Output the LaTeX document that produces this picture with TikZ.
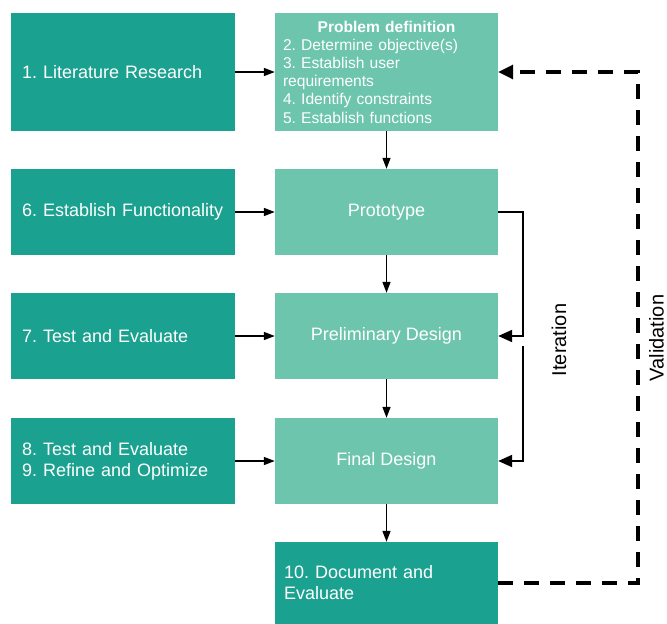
\documentclass[tikz,border=0pt]{standalone}
\usepackage{fontspec}
\setmainfont{Liberation Sans}
\usetikzlibrary{arrows.meta}
\definecolor{darkteal}{HTML}{1BA18F}
\definecolor{lightteal}{HTML}{6CC5AC}
\frenchspacing
\begin{document}
\begin{tikzpicture}[x=1pt,y=-1pt,
  leftbox/.style={draw=none,fill=darkteal,text=white,minimum width=224pt,text width=202pt,inner xsep=11pt,align=left,font=\fontsize{18}{21}\selectfont},
  rightbox/.style={draw=none,fill=lightteal,text=white,minimum width=223pt,align=center,font=\fontsize{18}{21}\selectfont},
  conn/.style={line width=1.5pt,-{Triangle[length=11pt,width=8pt]}},
  iter/.style={line width=2pt,-{Triangle[length=14pt,width=12pt]}},
  valid/.style={line width=3.2pt,dash pattern=on 15pt off 11pt,-{Triangle[length=15pt,width=14pt]}},
  lbl/.style={font=\fontsize{20}{24}\selectfont,rotate=90}
]
\useasboundingbox (0,0) rectangle (667,624);
% left column
\node[leftbox,minimum height=118pt] (l1) at (123,72) {1. Literature Research};
\node[leftbox,minimum height=86pt] (l2) at (123,212) {6. Establish Functionality};
\node[leftbox,minimum height=86pt] (l3) at (123,336) {7. Test and Evaluate};
\node[leftbox,minimum height=86pt] (l4) at (123,461) {8. Test and Evaluate\\9. Refine and Optimize};
% right column
\node[rightbox,minimum height=118pt,text width=207pt,inner xsep=8pt,align=left,font=\fontsize{15.6}{18.2}\selectfont] (r1) at (386.5,72)
  {\makebox[207pt]{\bfseries Problem definition}\\2. Determine objective(s)\\3. Establish user\\requirements\\4. Identify constraints\\5. Establish functions};
\node[rightbox,minimum height=86pt] (r2) at (386.5,212) {Prototype};
\node[rightbox,minimum height=86pt] (r3) at (386.5,336) {Preliminary Design};
\node[rightbox,minimum height=86pt] (r4) at (386.5,461) {Final Design};
\node[leftbox,minimum width=223pt,text width=205pt,inner xsep=9pt,minimum height=82pt] (r5) at (386.5,583) {10. Document and\\Evaluate};
% horizontal arrows
\draw[conn] (l1.east) -- (r1.west);
\draw[conn] (l2.east) -- (r2.west);
\draw[conn] (l3.east) -- (r3.west);
\draw[conn] (l4.east) -- (r4.west);
% vertical arrows
\draw[conn] (r1.south) -- (r2.north);
\draw[conn] (r2.south) -- (r3.north);
\draw[conn] (r3.south) -- (r4.north);
\draw[conn] (r4.south) -- (r5.north);
% iteration
\coordinate (i1) at (523,212);
\coordinate (i2) at (523,336);
\coordinate (i3) at (523,346);
\coordinate (i4) at (523,461);
\draw[iter] (r2.east) -- (i1) -- (i2) -- (r3.east);
\draw[iter] (i3) -- (i4) -- (r4.east);
\node[lbl] (itl) at (559,340) {Iteration};
% validation
\coordinate (v1) at (638,583);
\coordinate (v2) at (638,72);
\draw[valid] (r5.east) -- (v1) -- (v2) -- (r1.east);
\node[lbl] (vl) at (656.5,338) {Validation};
\end{tikzpicture}
\end{document}
